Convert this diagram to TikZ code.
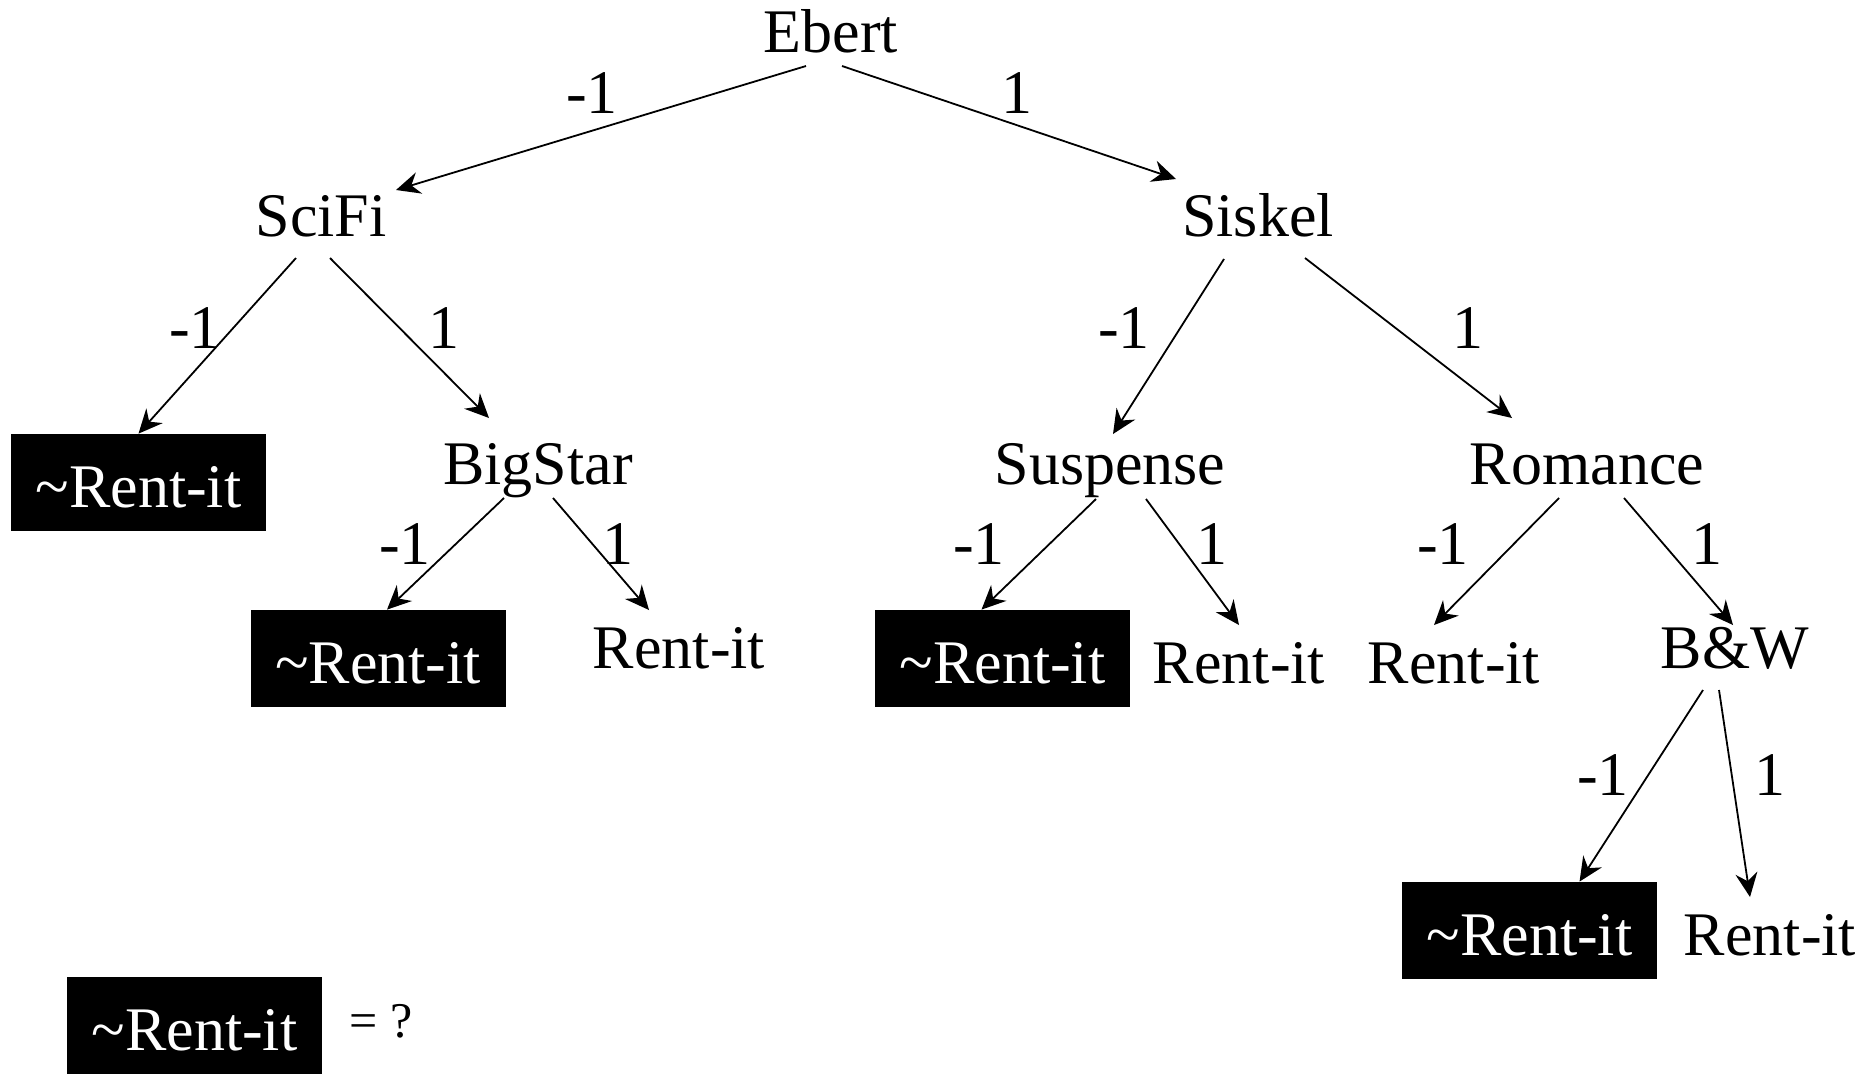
\documentclass[tikz,border=0pt]{standalone}
\usepackage{fontspec}
\setmainfont{Liberation Serif}
\usetikzlibrary{arrows.meta}

\tikzset{
  split/.style={anchor=base, inner sep=0pt, font=\fontsize{31}{37}\selectfont},
  noleaf/.style={split, fill=black, text=white, minimum width=127.5pt,
    minimum height=48.5pt, text height=29pt, text depth=4.5pt},
  vote/.style={split},
  branch/.style={-{Stealth[length=12pt,width=11pt,inset=4pt]}, line width=0.9pt},
}
\newcommand{\norent}{\textasciitilde Rent-it}

\begin{document}
\begin{tikzpicture}[x=0.5pt,y=-0.5pt]
  \useasboundingbox (0,0) rectangle (1872,1073);

  % tests
  \node[split] (ebert)    at (831,52)   {Ebert};
  \node[split] (scifi)    at (321,236)  {SciFi};
  \node[split] (siskel)   at (1258,236) {Siskel};
  \node[split] (bigstar)  at (538,484)  {BigStar};
  \node[split] (suspense) at (1110,484) {Suspense};
  \node[split] (romance)  at (1587,484) {Romance};
  \node[split] (bw)       at (1735,668) {B\&W};

  % outcomes
  \node[noleaf] (noa) at (138.5,507) {\norent};
  \node[noleaf] (nob) at (378,683)   {\norent};
  \node[noleaf] (noc) at (1002.5,683) {\norent};
  \node[noleaf] (nod) at (1529.5,955) {\norent};
  \node[split] (renta) at (679,668)  {Rent-it};
  \node[split] (rentb) at (1239,683) {Rent-it};
  \node[split] (rentc) at (1454,683) {Rent-it};
  \node[split] (rentd) at (1770,955) {Rent-it};

  % branches
  \draw[branch] ([shift={(-25,14)}]ebert.base) -- ([shift={(75,-46)}]scifi.base);
  \draw[branch] ([shift={(11,14)}]ebert.base) -- ([shift={(-82,-57)}]siskel.base);
  \draw[branch] ([shift={(-25,22)}]scifi.base) -- (noa.north);
  \draw[branch] ([shift={(9,22)}]scifi.base) -- ([shift={(-49,-66)}]bigstar.base);
  \draw[branch] ([shift={(-34,23)}]siskel.base) -- ([shift={(3,-50)}]suspense.base);
  \draw[branch] ([shift={(47,22)}]siskel.base) -- ([shift={(-75,-66)}]romance.base);
  \draw[branch] ([shift={(-34,14)}]bigstar.base) -- ([xshift=4.5pt]nob.north);
  \draw[branch] ([shift={(15,14)}]bigstar.base) -- ([shift={(-30,-58)}]renta.base);
  \draw[branch] ([shift={(-14,15)}]suspense.base) -- ([xshift=-10.5pt]noc.north);
  \draw[branch] ([shift={(36,15)}]suspense.base) -- ([shift={(0,-58)}]rentb.base);
  \draw[branch] ([shift={(-28,14)}]romance.base) -- ([shift={(-20,-58)}]rentc.base);
  \draw[branch] ([shift={(37,14)}]romance.base) -- ([shift={(-2,-43)}]bw.base);
  \draw[branch] ([shift={(-32,22)}]bw.base) -- ([xshift=25pt]nod.north);
  \draw[branch] ([shift={(-16,22)}]bw.base) -- ([shift={(-20,-58)}]rentd.base);

  % branch values
  \foreach \x/\y/\v [count=\i] in {592/113/-1, 1017/113/1, 195/348/-1, 444/348/1,
      1124/348/-1, 1468/348/1, 405/564/-1, 618/564/1, 979/564/-1, 1212/564/1,
      1443/564/-1, 1707/564/1, 1603/795/-1, 1770/795/1}
    \node[vote] (v\i) at (\x,\y) {\v};

  % key
  \node[noleaf] (key) at (194.5,1050) {\norent};
  \node[split, font=\fontsize{25}{30}\selectfont] (keyq) at (381,1037) {= ?};
\end{tikzpicture}
\end{document}
